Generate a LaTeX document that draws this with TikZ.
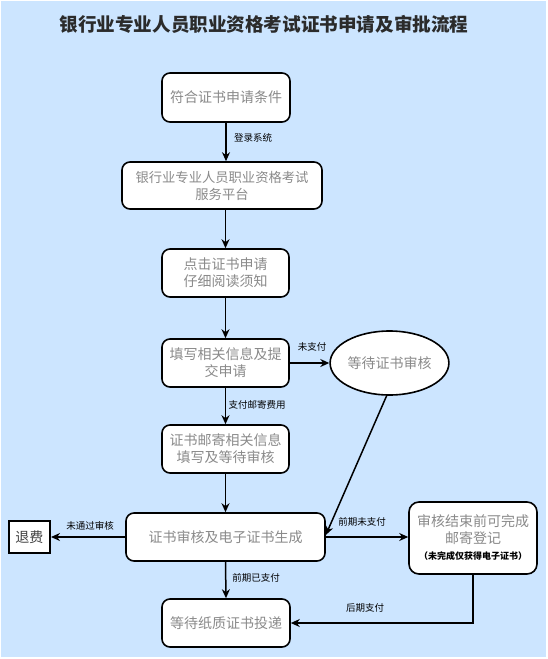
\documentclass[tikz,border=0pt]{standalone}
\usepackage{fontspec}
\setmainfont{Noto Sans CJK SC}
\usetikzlibrary{arrows.meta,shapes.geometric}
\definecolor{bgblue}{HTML}{CCE5FF}
\definecolor{boxtext}{HTML}{8A8A8A}
\definecolor{titletext}{HTML}{2B2B2B}
\tikzset{
  stepbox/.style={draw=black, line width=1.6pt, fill=white, rounded corners=8pt,
    inner sep=0pt, align=center, text=boxtext,
    font=\fontsize{14}{17}\selectfont},
  ovalbox/.style={ellipse, draw=black, line width=1.6pt, fill=white, inner sep=0pt,
    minimum width=105pt, minimum height=64pt, text=boxtext,
    font=\fontsize{14}{17}\selectfont},
  plainbox/.style={draw=black, line width=2pt, fill=white, inner sep=0pt,
    minimum width=41pt, minimum height=32pt, text=black!75,
    font=\fontsize{14}{17}\selectfont},
  flow/.style={line width=1.5pt, -{Stealth[length=9pt,width=8pt]}},
  elabel/.style={inner sep=0pt, text=black, font=\fontsize{9.5}{11}\selectfont}
}
\begin{document}
\begin{tikzpicture}[x=1pt,y=-1pt]
\useasboundingbox (0,0) rectangle (547,659);
\fill[bgblue] (1,1) rectangle (546,657);
\node[inner sep=0pt, text=titletext, font=\fontsize{18.6}{20}\selectfont\bfseries] (title) at (264,24) {银行业专业人员职业资格考试证书申请及审批流程};

\node[stepbox, minimum width=128pt, minimum height=49pt] (b1) at (226,97.5) {符合证书申请条件};
\node[stepbox, minimum width=200pt, minimum height=47pt, font=\fontsize{13.3}{17}\selectfont] (b2) at (222,185.5) {银行业专业人员职业资格考试\\服务平台};
\node[stepbox, minimum width=127pt, minimum height=48pt] (b3) at (225.5,273) {点击证书申请\\仔细阅读须知};
\node[stepbox, minimum width=127pt, minimum height=48pt] (b4) at (225.5,363) {填写相关信息及提\\交申请};
\node[ovalbox] (ell) at (389.5,363) {等待证书审核};
\node[stepbox, minimum width=127pt, minimum height=48pt] (b5) at (225.5,449) {证书邮寄相关信息\\填写及等待审核};
\node[stepbox, minimum width=199pt, minimum height=48pt] (b6) at (225.5,537) {证书审核及电子证书生成};
\node[plainbox] (tf) at (29.5,537) {退费};
\node[stepbox, rounded corners=10pt, minimum width=128pt, minimum height=72pt] (b7) at (473,538) {审核结束前可完成\\邮寄登记\\[-1pt]{\fontsize{9}{11}\selectfont\bfseries\color{black}（未完成仅获得电子证书）}};
\node[stepbox, minimum width=128pt, minimum height=48pt] (b8) at (226,623) {等待纸质证书投递};

\draw[flow] (b1.south) -- (b1.south |- b2.north);
\draw[flow] (b3.north |- b2.south) -- (b3.north);
\draw[flow] (b3.south) -- (b4.north);
\draw[flow] (b4.east) -- (ell.west);
\draw[flow] (b4.south) -- (b5.north);
\draw[flow] (b5.south) -- (b6.north);
\draw[flow] (ell.265) -- ([yshift=2pt]b6.east);
\draw[flow] (b6.east) -- (b6.east -| b7.west);
\draw[flow] (b6.west) -- (tf.east);
\draw[flow] (b6.south) -- (b8.north);
\draw[flow] (b7.south) |- (b8.east);

\node[elabel] (l1) at (253,138) {登录系统};
\node[elabel] (l2) at (312,347) {未支付};
\node[elabel] (l3) at (257,405) {支付邮寄费用};
\node[elabel] (l4) at (90,526) {未通过审核};
\node[elabel] (l5) at (362,522) {前期未支付};
\node[elabel] (l6) at (256,578) {前期已支付};
\node[elabel] (l7) at (365,608) {后期支付};
\end{tikzpicture}
\end{document}
